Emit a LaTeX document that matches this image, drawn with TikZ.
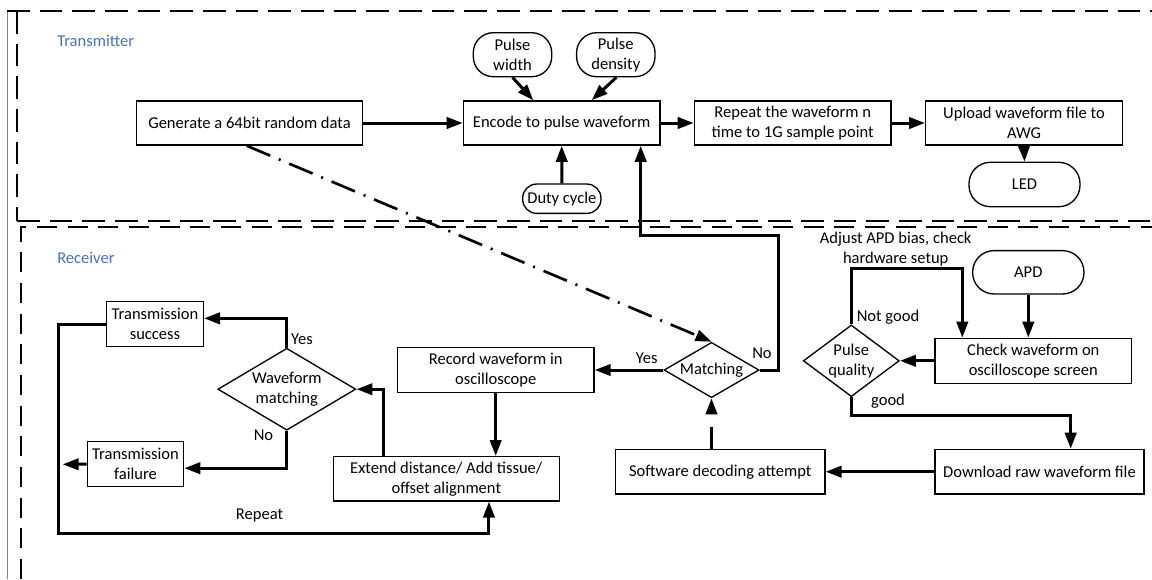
\documentclass[tikz,border=0pt]{standalone}
\usepackage{fontspec}
\setmainfont{Carlito}
\usetikzlibrary{arrows.meta,shapes.geometric,calc}
\definecolor{secblue}{HTML}{4472C4}
\begin{document}
\begin{tikzpicture}[x=0.75pt,y=-0.75pt,
  every node/.style={font=\fontsize{12.4}{15}\selectfont},
  box/.style={draw,line width=1pt,inner sep=1pt,align=center,minimum height=33.2pt},
  pill/.style={box,rounded corners=15pt},
  dia/.style={draw,diamond,line width=1pt,inner sep=0pt,align=center},
  conn/.style={line width=2.25pt,-{Triangle[length=12pt,width=8.5pt]}},
  lbl/.style={inner sep=0pt},
  tframe/.style={line width=1.5pt,dash pattern=on 17pt off 7.5pt},
  rframe/.style={line width=1.1pt,dash pattern=on 15pt off 8pt},
  dashdot/.style={line width=2pt,dash pattern=on 19pt off 7pt on 1.5pt off 7pt,-{Triangle[length=12pt,width=8.5pt]}},
  gapline/.style={line width=2.25pt,dash pattern=on 16.5pt off 40pt,-{Triangle[length=12pt,width=8.5pt]}}
]
\useasboundingbox (0,0) rectangle (1152,579);

% frames
\draw[gray,line width=0.6pt] (7,10.7) -- (7,579);
\draw[tframe] (7,11) -- (1152,11);
\draw[tframe] (17,11) -- (17,221);
\draw[tframe] (17,221) -- (1152,221);
\draw[rframe] (21,579) -- (21,227) -- (1152,227);

\node[lbl,anchor=west,text=secblue] (ttx) at (57,41) {Transmitter};
\node[lbl,anchor=west,text=secblue] (trx) at (57,258) {Receiver};

% transmitter nodes
\node[box,minimum width=169.2pt] (gen) at (249.5,123) {Generate a 64bit random data};
\node[box,minimum width=147.5pt] (enc) at (561.7,123) {Encode to pulse waveform};
\node[pill,minimum width=58.8pt,minimum height=33pt] (pw) at (512.5,54.7) {Pulse\\width};
\node[pill,minimum width=58.8pt,minimum height=33pt] (pd) at (615.8,54.7) {Pulse\\density};
\node[box,rounded corners=10.5pt,minimum width=58.7pt,minimum height=22pt] (duty) at (561.8,198.7) {Duty cycle};
\node[box,minimum width=147.5pt] (rep) at (792.7,123) {Repeat the waveform n\\time to 1G sample point};
\node[box,minimum width=147.5pt] (upl) at (1024,123) {Upload waveform file to\\AWG};
\node[pill,rounded corners=16pt,minimum width=83.25pt,minimum height=33.3pt] (led) at (1024.5,184.5) {LED};

% receiver nodes
\node[box,minimum width=72.5pt,minimum height=33.75pt] (succ) at (155,324.2) {Transmission\\success};
\node[box,minimum width=72.3pt,minimum height=33.75pt] (fail) at (135.5,464.2) {Transmission\\failure};
\node[dia,minimum width=103.5pt,minimum height=61.5pt,aspect=1.68] (wm) at (286.8,389.2) {Waveform\\matching};
\node[box,minimum width=169.5pt] (ext) at (446.3,478.8) {Extend distance/ Add tissue/\\offset alignment};
\node[box,minimum width=147.5pt,minimum height=33.5pt] (rec) at (495.7,370) {Record waveform in\\oscilloscope};
\node[dia,minimum width=71.3pt,minimum height=41.5pt,aspect=1.72] (match) at (711.5,370) {Matching};
\node[box,minimum width=157pt,minimum height=33.5pt] (sw) at (720.3,471.7) {Software decoding attempt};
\node[box,minimum width=156.75pt,minimum height=33.5pt] (dl) at (1039.5,471.7) {Download raw waveform file};
\node[box,minimum width=147.5pt,minimum height=33.75pt] (chk) at (1033.3,360.8) {Check waveform on\\oscilloscope screen};
\node[pill,rounded corners=16pt,minimum width=83.5pt,minimum height=32.5pt] (apd) at (1028.3,272.3) {APD};
\node[dia,minimum width=72pt,minimum height=53.75pt,aspect=1.34] (pq) at (851.3,360.8) {Pulse\\quality};

% labels
\node[lbl] (lyes1) at (302,339) {Yes};
\node[lbl] (lno1) at (263.5,435) {No};
\node[lbl] (lrep) at (259.5,516) {Repeat};
\node[lbl] (lyes2) at (646.7,358) {Yes};
\node[lbl] (lno2) at (762,353) {No};
\node[lbl,align=center] (ladj) at (895.7,248.7) {Adjust APD bias, check\\hardware setup};
\node[lbl] (lng) at (888,316.7) {Not good};
\node[lbl] (lgood) at (888,401) {good};

% coordinates
\coordinate (nofb) at (640.7,235);
\coordinate (failend) at (62.7,464.3);
\coordinate (rpt) at (58.3,533.3);
\coordinate (adj) at (962.3,268.3);
\coordinate (gd) at (1070.7,415);

% transmitter connectors
\draw[conn] (gen.east) -- (enc.west);
\draw[conn] (enc.east) -- (rep.west);
\draw[conn] (rep.east) -- (upl.west);
\draw[conn] (upl.south) -- (led.north);
\draw[conn] (pw.south) -- ([xshift=-21.3pt]enc.north);
\draw[conn] ([xshift=0.4pt]pd.south) -- ([xshift=22.5pt]enc.north);
\draw[conn] (duty.north) -- (enc.south);

% receiver connectors
\draw[conn] (match.east) -- ++(18.7,0) |- (nofb) -- (nofb |- enc.south);
\draw[dashdot] ([xshift=-2pt]gen.south) -- (match.north);
\draw[gapline] (match.south |- sw.north) -- (match.south);
\draw[conn] (match.west) -- (rec.east);
\draw[conn] (rec.south) -- (rec.south |- ext.north);
\draw[conn] ([xshift=-47.25pt]ext.north) |- (wm.east);
\draw[conn] (wm.north) |- ([yshift=4.4pt]succ.east);
\draw[conn] (wm.south) |- ([yshift=-3pt]fail.east);
\draw[conn] (fail.west) -- (failend);
\draw[conn] (succ.west) -| (rpt) -| ([xshift=32pt]ext.south);
\draw[conn] (dl.west) -- (sw.east);
\draw[conn] (chk.west) -- (pq.east);
\draw[conn] (apd.south) -- (apd.south |- chk.north);
\draw[conn] (pq.north) |- (adj) -- (adj |- chk.north);
\draw[conn] (pq.south) |- (gd) -- (gd |- dl.north);
\end{tikzpicture}
\end{document}
